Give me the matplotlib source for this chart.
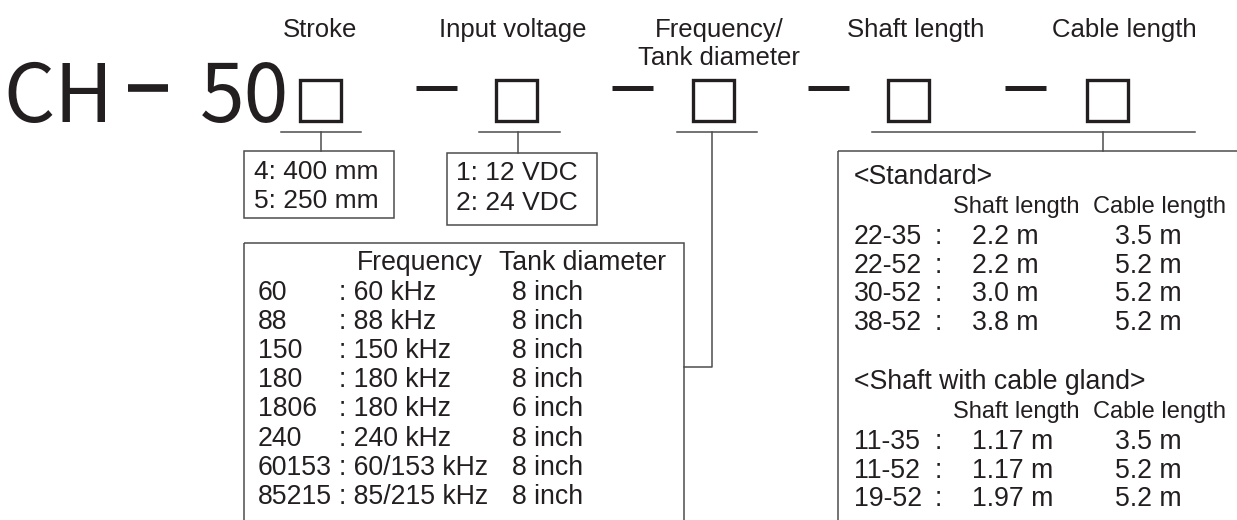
#Model code diagram for CH-50 transducer
import matplotlib
matplotlib.use("Agg")
import matplotlib.pyplot as plt
from matplotlib.patches import Rectangle

plt.rcParams['font.family'] = ['Liberation Sans', 'DejaVu Sans']

# code field labels
field_labels = ["Stroke", "Input voltage", "Frequency/\nTank diameter", "Shaft length", "Cable length"]

# stroke options
stroke_codes = ["4", "5"]
stroke_values = ["400 mm", "250 mm"]

# input voltage options
volt_codes = ["1", "2"]
volt_values = ["12 VDC", "24 VDC"]

# frequency / tank diameter options
freq_codes = ["60", "88", "150", "180", "1806", "240", "60153", "85215"]
freq_values = ["60 kHz", "88 kHz", "150 kHz", "180 kHz", "180 kHz", "240 kHz", "60/153 kHz", "85/215 kHz"]
tank_diam = ["8 inch", "8 inch", "8 inch", "8 inch", "6 inch", "8 inch", "8 inch", "8 inch"]

# shaft / cable options
std_codes = ["22-35", "22-52", "30-52", "38-52"]
std_shaft = ["2.2 m", "2.2 m", "3.0 m", "3.8 m"]
std_cable = ["3.5 m", "5.2 m", "5.2 m", "5.2 m"]
gland_codes = ["11-35", "11-52", "19-52"]
gland_shaft = ["1.17 m", "1.17 m", "1.97 m"]
gland_cable = ["3.5 m", "5.2 m", "5.2 m"]

TXT = "#231f20"
LINE = "#4d4d4d"
FS = 19.2

fig = plt.figure(figsize=(12.37, 5.2), dpi=100)
ax = fig.add_axes([0, 0, 1, 1])
ax.set_xlim(0, 1237)
ax.set_ylim(520, 0)
ax.axis("off")

# model prefix (narrowest face available)
prefix_font = ['Noto Sans CJK JP', 'DejaVu Sans']
ax.text(58, 122, "CH", ha="center", va="baseline", fontsize=58, family=prefix_font, color=TXT)
ax.text(245, 122, "50", ha="center", va="baseline", fontsize=58, family=prefix_font, color=TXT)
ax.plot([128, 168], [88, 88], color=TXT, lw=5.5, solid_capstyle="butt")

# code squares
sq_x = [300, 496, 693, 888, 1087]
for x in sq_x:
    ax.add_patch(Rectangle((x, 80), 41, 41, fill=False, ec=TXT, lw=2.4))
for x in [416, 612, 808, 1005]:
    ax.plot([x, x + 41], [88, 88], color=TXT, lw=3.6, solid_capstyle="butt")

# field labels
lab_x = [320, 513, 719, 916, 1124]
for x, lab in zip(lab_x, field_labels):
    if "\n" in lab:
        ax.text(x, 44, lab, ha="center", va="center", fontsize=18.5, color=TXT, linespacing=1.2)
    else:
        ax.text(x, 30, lab, ha="center", va="center", fontsize=18.5, color=TXT)

lw = 1.1
# connectors
ax.plot([281, 361], [132, 132], color=LINE, lw=lw)
ax.plot([321, 321], [132, 151], color=LINE, lw=lw)
ax.plot([479, 560], [132, 132], color=LINE, lw=lw)
ax.plot([518, 518], [132, 153], color=LINE, lw=lw)
ax.plot([677, 757], [132, 132], color=LINE, lw=lw)
ax.plot([712, 712, 684], [132, 367, 367], color=LINE, lw=lw)
ax.plot([872, 1195], [132, 132], color=LINE, lw=lw)
ax.plot([1103, 1103], [132, 151], color=LINE, lw=lw)

# option boxes
ax.add_patch(Rectangle((244, 151), 150, 67, fill=False, ec=LINE, lw=lw))
ax.add_patch(Rectangle((447, 153), 150, 72, fill=False, ec=LINE, lw=lw))
ax.add_patch(Rectangle((244, 243), 440, 300, fill=False, ec=LINE, lw=lw))
ax.add_patch(Rectangle((838, 151), 420, 400, fill=False, ec=LINE, lw=lw))

for i, (c, v) in enumerate(zip(stroke_codes, stroke_values)):
    ax.text(254, 172 + 29 * i, c + ": " + v, va="center", fontsize=19, color=TXT)
for i, (c, v) in enumerate(zip(volt_codes, volt_values)):
    ax.text(456, 173 + 30 * i, c + ": " + v, va="center", fontsize=19, color=TXT)

# frequency table
ax.text(357, 263, "Frequency", va="center", fontsize=FS, color=TXT)
ax.text(499, 263, "Tank diameter", va="center", fontsize=FS, color=TXT)
for i in range(len(freq_codes)):
    y = 293 + 29.1 * i
    ax.text(258, y, freq_codes[i], va="center", fontsize=FS, color=TXT)
    ax.text(339, y, ": " + freq_values[i], va="center", fontsize=FS, color=TXT)
    ax.text(512, y, tank_diam[i], va="center", fontsize=FS, color=TXT)

# shaft / cable table
def shaft_block(title, y0, codes, shafts, cables):
    ax.text(854, y0, title, va="center", fontsize=FS, color=TXT)
    ax.text(953, y0 + 30, "Shaft length", va="center", fontsize=17, color=TXT)
    ax.text(1093, y0 + 30, "Cable length", va="center", fontsize=17, color=TXT)
    for i in range(len(codes)):
        y = y0 + 60 + 28.7 * i
        ax.text(854, y, codes[i], va="center", fontsize=FS, color=TXT)
        ax.text(935, y, ":", va="center", fontsize=FS, color=TXT)
        ax.text(972, y, shafts[i], va="center", fontsize=FS, color=TXT)
        ax.text(1115, y, cables[i], va="center", fontsize=FS, color=TXT)


shaft_block("<Standard>", 177, std_codes, std_shaft, std_cable)
shaft_block("<Shaft with cable gland>", 382, gland_codes, gland_shaft, gland_cable)

fig.savefig("out.png", dpi=100)
